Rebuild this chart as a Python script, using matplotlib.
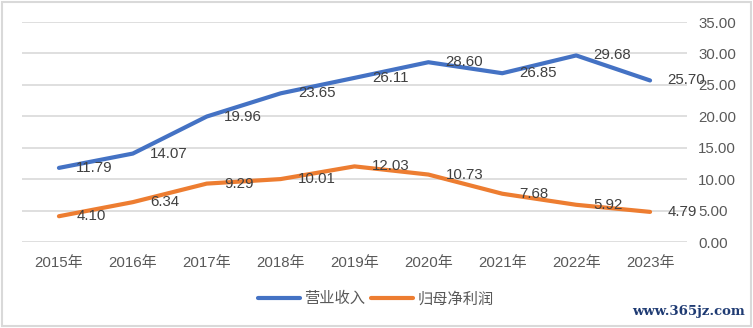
import matplotlib
matplotlib.use("Agg")
import matplotlib.pyplot as plt
from matplotlib.patches import Rectangle
from matplotlib.ticker import MultipleLocator, FormatStrFormatter

plt.rcParams['font.family'] = ['Liberation Sans', 'Noto Sans CJK SC', 'DejaVu Sans']

years = ['2015年', '2016年', '2017年', '2018年', '2019年', '2020年', '2021年', '2022年', '2023年']
revenue = [11.79, 14.07, 19.96, 23.65, 26.11, 28.60, 26.85, 29.68, 25.70]
net_profit = [4.10, 6.34, 9.29, 10.01, 12.03, 10.73, 7.68, 5.92, 4.79]
series_names = ['营业收入', '归母净利润']

W, H = 753, 328
fig = plt.figure(figsize=(W / 100, H / 100), dpi=100)
fig.patch.set_facecolor('white')

# outer frame
fig.add_artist(Rectangle((2 / W, 2 / H), (W - 4) / W, (H - 4) / H,
                         transform=fig.transFigure, fill=False,
                         edgecolor='#D9D9D9', linewidth=1.5))

ax = fig.add_axes([22 / W, (H - 242) / H, 665 / W, 220 / H])
x = list(range(len(years)))

ax.plot(x, revenue, color='#4472C4', linewidth=3, solid_capstyle='round',
        solid_joinstyle='round', label=series_names[0], zorder=3)
ax.plot(x, net_profit, color='#ED7D31', linewidth=3, solid_capstyle='round',
        solid_joinstyle='round', label=series_names[1], zorder=3)

for series in (revenue, net_profit):
    for xi, v in zip(x, series):
        ax.annotate(f'{v:.2f}', (xi, v), xytext=(12.5, 0), textcoords='offset points',
                    ha='left', va='center', fontsize=10.8, color='#404040', zorder=4)

ax.set_xlim(-0.5, len(years) - 0.5)
ax.set_ylim(0, 35)
ax.set_xticks(x)
ax.set_xticklabels(years)
ax.yaxis.set_major_locator(MultipleLocator(5))
ax.yaxis.set_major_formatter(FormatStrFormatter('%.2f'))
ax.yaxis.tick_right()
ax.tick_params(axis='y', length=0, pad=8, labelsize=10.8, labelcolor='#595959')
ax.tick_params(axis='x', length=0, pad=10, labelsize=10.8, labelcolor='#595959')
for s in ax.spines.values():
    s.set_visible(False)
ax.grid(axis='y', color='#D9D9D9', linewidth=1.2)
ax.set_axisbelow(True)

leg = fig.legend(loc='center', bbox_to_anchor=(376 / W, (H - 299) / H), ncol=2,
                 frameon=False, fontsize=11, handlelength=2.7, handletextpad=0.3,
                 columnspacing=0.4, labelcolor='#595959')

fig.text(745 / W, (H - 312) / H, 'www.365jz.com', ha='right', va='center',
         fontsize=9.5, fontweight='bold', family='DejaVu Serif', color='#1F3B73')

fig.savefig('out.png', dpi=100)
